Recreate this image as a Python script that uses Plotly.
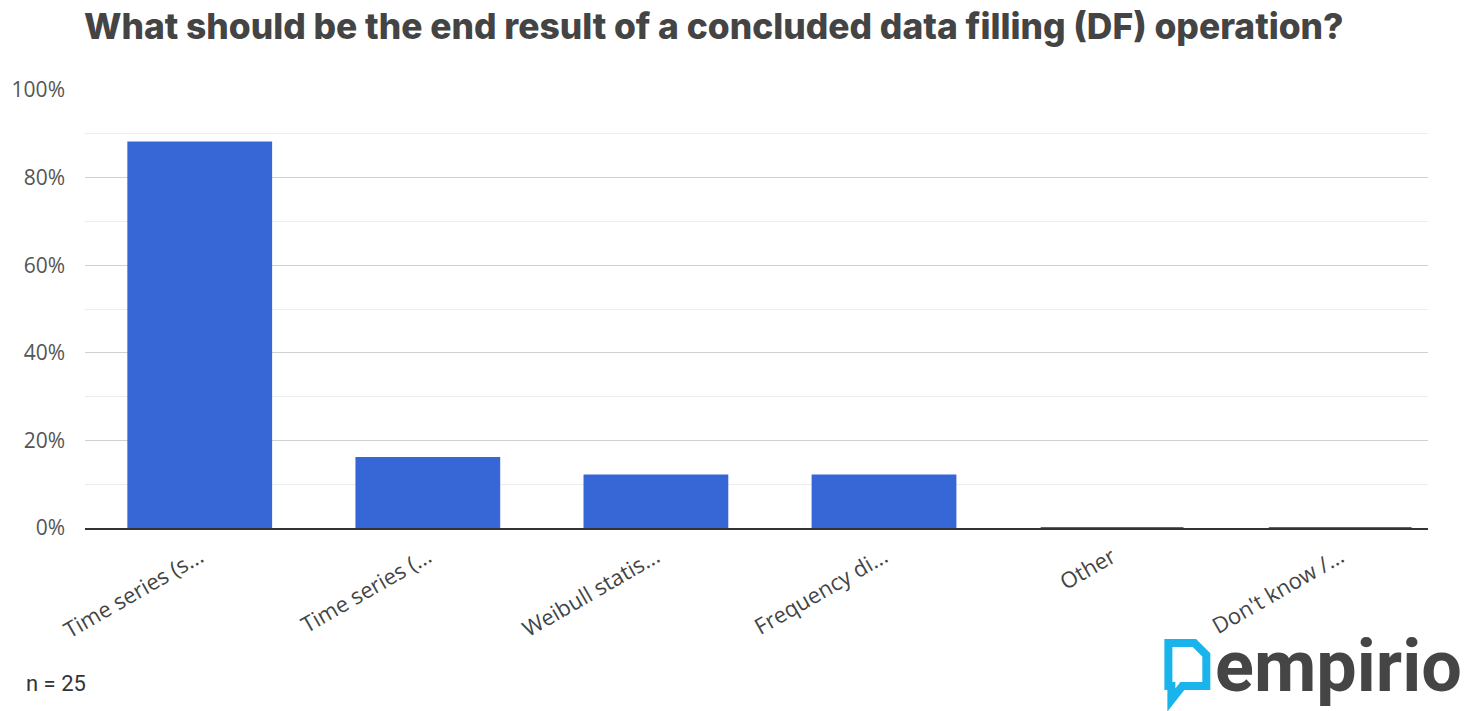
import plotly.graph_objects as go

categories = ["Time series (s...", "Time series (...", "Weibull statis...", "Frequency di...", "Other", "Don't know /..."]
values = [88, 16, 12, 12, 0, 0]
y_ticks = [0, 20, 40, 60, 80, 100]
y_tick_labels = ["0%", "20%", "40%", "60%", "80%", "100%"]

W, H = 1466, 711
L, R, T, B = 83, 38, 90, 183
PW, PH = W - L - R, H - T - B

fig = go.Figure()
fig.add_trace(go.Bar(
    x=categories, y=values,
    marker=dict(color="#3767d6", line=dict(color="#3767d6", width=2)),
    width=0.626,
))

fig.update_layout(
    width=W, height=H,
    margin=dict(l=L, r=R, t=T, b=B),
    paper_bgcolor="white", plot_bgcolor="white",
    showlegend=False,
    title=dict(
        text="What should be the end result of a concluded data filling (DF) operation?",
        x=84 / W, xanchor="left", y=1 - 27 / H, yanchor="middle",
        font=dict(family="Inter, Open Sans, sans-serif", size=35.4, color="#444444", weight=800),
    ),
    font=dict(family="Open Sans, sans-serif", color="#555555"),
)
fig.update_yaxes(
    range=[0, 100], tickvals=y_ticks, ticktext=y_tick_labels,
    showgrid=True, gridcolor="#d0d0d0", gridwidth=1,
    minor=dict(dtick=10, showgrid=True, gridcolor="#ececec", gridwidth=1),
    zeroline=False, ticks="", ticklabelstandoff=19,
    tickfont=dict(size=21, color="#555555", family="Open Sans, sans-serif"),
)
fig.update_xaxes(
    range=[-0.503, 5.385],
    showline=True, linecolor="#333333", linewidth=1.5, layer="below traces",
    tickangle=-30, ticks="", ticklabelstandoff=6,
    tickfont=dict(size=22, color="#444444", family="Open Sans, sans-serif"),
)

def px(xp, yp):
    return (xp - L) / PW, (H - B - yp) / PH

nx, ny = px(22, 683)
fig.add_annotation(
    text="n = 25", xref="paper", yref="paper",
    x=nx, y=ny, xanchor="left", yanchor="middle",
    showarrow=False, font=dict(size=22, color="#333333", family="Roboto, sans-serif"),
)

# empirio logo
lx, ly = px(1464, 666)
fig.add_annotation(
    text="<b>empirio</b>", xref="paper", yref="paper",
    x=lx, y=ly, xanchor="right", yanchor="middle",
    showarrow=False, font=dict(size=72, color="#454545", family="Roboto, sans-serif"),
)
pts = [(1168, 643), (1194, 643), (1206, 655), (1206, 686), (1182, 686), (1171, 700), (1171, 686), (1168, 686)]
path = "M " + " L ".join(f"{px(a,b)[0]},{px(a,b)[1]}" for a, b in pts) + " Z"
fig.add_shape(type="path", xref="paper", yref="paper", path=path,
              line=dict(color="#1ab4ec", width=8), fillcolor="rgba(0,0,0,0)")

fig.write_html("out.html", config={"displayModeBar": False},
               post_script="document.body.style.margin='0';")
